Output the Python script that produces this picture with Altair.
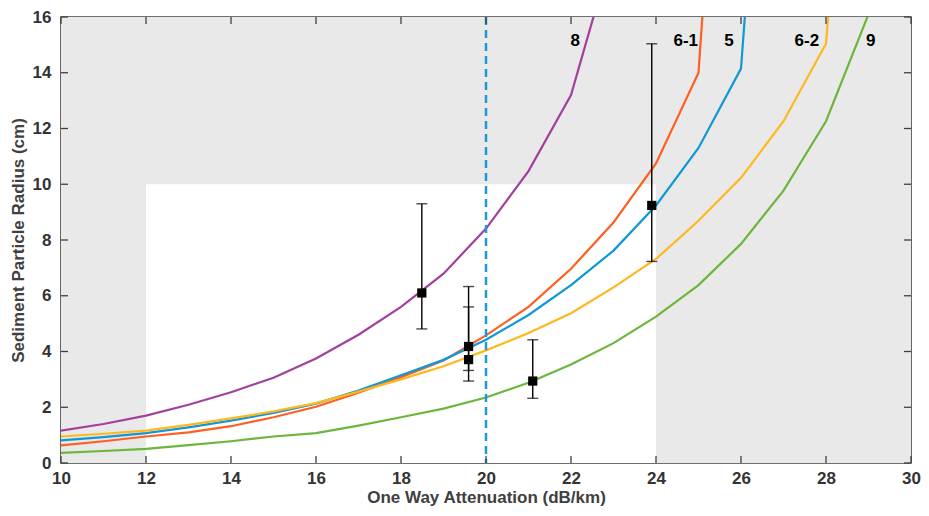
import altair as alt
import pandas as pd

# ---------------- data ----------------
series_names = ["8", "6-1", "5", "6-2", "9"]
series_colors = ["#A2409E", "#FF5F1F", "#0F98D5", "#FDB81E", "#6CB63B"]

x_8 = list(range(10, 24))
y_8 = [1.16, 1.40, 1.70, 2.09, 2.54, 3.06, 3.75, 4.60, 5.60, 6.79, 8.41, 10.47, 13.2, 18.5]

x_61 = list(range(10, 27))
y_61 = [0.63, 0.78, 0.95, 1.10, 1.32, 1.64, 2.02, 2.52, 3.08, 3.68, 4.58, 5.60, 6.97, 8.63, 10.75, 14.0, 36.0]

x_5 = list(range(10, 28))
y_5 = [0.81, 0.93, 1.07, 1.28, 1.52, 1.80, 2.13, 2.60, 3.15, 3.70, 4.42, 5.31, 6.38, 7.62, 9.24, 11.3, 14.15, 34.7]

x_62 = list(range(10, 30))
y_62 = [0.95, 1.05, 1.16, 1.37, 1.60, 1.85, 2.15, 2.56, 3.00, 3.47, 4.04, 4.66, 5.37, 6.30, 7.32, 8.69, 10.23, 12.26, 15.04, 34.0]

x_9 = list(range(10, 31))
y_9 = [0.36, 0.43, 0.51, 0.64, 0.78, 0.95, 1.07, 1.34, 1.64, 1.95, 2.35, 2.88, 3.53, 4.30, 5.25, 6.38, 7.86, 9.77, 12.26, 16.1, 21.0]

# measured samples with error bars
pt_x = [18.49, 19.59, 19.59, 21.10, 23.90]
pt_y = [6.10, 4.18, 3.71, 2.94, 9.24]
pt_lo = [4.81, 3.32, 2.94, 2.32, 7.23]
pt_hi = [9.30, 6.33, 5.60, 4.42, 15.04]

# series labels near the top
label_text = ["8", "6-1", "5", "6-2", "9"]
label_x = [22.1, 24.7, 25.72, 27.55, 29.05]
label_y = [15.15, 15.15, 15.15, 15.15, 15.15]

# shaded regions: full panel grey, valid window white
reg_x = [10, 12]
reg_x2 = [30, 24]
reg_y = [0, 0]
reg_y2 = [16, 10]
reg_fill = ["#E9E9E9", "#FFFFFF"]

threshold_x = 20

x_ticks = list(range(10, 31, 2))
y_ticks = list(range(0, 17, 2))

# ---------------- tables ----------------
rows = []
for name, xs, ys in [("8", x_8, y_8), ("6-1", x_61, y_61), ("5", x_5, y_5),
                     ("6-2", x_62, y_62), ("9", x_9, y_9)]:
    for a, b in zip(xs, ys):
        rows.append({"series": name, "x": a, "y": b})
curves = pd.DataFrame(rows)
points = pd.DataFrame({"x": pt_x, "y": pt_y, "lo": pt_lo, "hi": pt_hi})
labels = pd.DataFrame({"t": label_text, "x": label_x, "y": label_y})
regions = pd.DataFrame({"x": reg_x, "x2": reg_x2, "y": reg_y, "y2": reg_y2, "f": reg_fill})
xt = pd.DataFrame({"t": x_ticks})
yt = pd.DataFrame({"t": y_ticks})

W, H = 850, 446
FONT = "Liberation Sans"
AX = "#404040"

xs = alt.Scale(domain=[10, 30], nice=False, zero=False)
ys = alt.Scale(domain=[0, 16], nice=False, zero=False)

x_axis = alt.Axis(values=x_ticks, title="One Way Attenuation (dB/km)", ticks=False,
                  domain=False, grid=False, labelPadding=7, titlePadding=3,
                  labelFlush=False)
y_axis = alt.Axis(values=y_ticks, title="Sediment Particle Radius (cm)", ticks=False,
                  domain=False, grid=False, labelPadding=10, titlePadding=5,
                  labelFlush=False)

bg = alt.Chart(regions).mark_rect().encode(
    x=alt.X("x:Q", scale=xs, axis=x_axis),
    x2="x2:Q",
    y=alt.Y("y:Q", scale=ys, axis=y_axis),
    y2="y2:Q",
    fill=alt.Fill("f:N", scale=None),
)

lines = alt.Chart(curves).mark_line(clip=True, strokeWidth=2.2).encode(
    x=alt.X("x:Q", scale=xs),
    y=alt.Y("y:Q", scale=ys),
    color=alt.Color("series:N", scale=alt.Scale(domain=series_names, range=series_colors), legend=None),
)

vline = alt.Chart(pd.DataFrame({"x": [threshold_x]})).mark_rule(
    color="#1A9AD6", strokeWidth=2.5, strokeDash=[8, 5]
).encode(x=alt.X("x:Q", scale=xs))

ebar = alt.Chart(points).mark_rule(color="black", strokeWidth=1.4).encode(
    x=alt.X("x:Q", scale=xs), y=alt.Y("lo:Q", scale=ys), y2="hi:Q"
)
cap_lo = alt.Chart(points).mark_tick(color="black", orient="horizontal", size=11, thickness=1.4).encode(
    x=alt.X("x:Q", scale=xs), y=alt.Y("lo:Q", scale=ys)
)
cap_hi = alt.Chart(points).mark_tick(color="black", orient="horizontal", size=11, thickness=1.4).encode(
    x=alt.X("x:Q", scale=xs), y=alt.Y("hi:Q", scale=ys)
)
sq = alt.Chart(points).mark_square(color="black", size=85, opacity=1).encode(
    x=alt.X("x:Q", scale=xs), y=alt.Y("y:Q", scale=ys)
)

txt = alt.Chart(labels).mark_text(font=FONT, fontSize=17, fontWeight="bold", color="black").encode(
    x=alt.X("x:Q", scale=xs), y=alt.Y("y:Q", scale=ys), text="t:N"
)

TL = 7
tb = alt.Chart(xt).mark_rule(color=AX, strokeWidth=1.3).encode(
    x=alt.X("t:Q", scale=xs), y=alt.value(H), y2=alt.value(H - TL))
tt = alt.Chart(xt).mark_rule(color=AX, strokeWidth=1.3).encode(
    x=alt.X("t:Q", scale=xs), y=alt.value(0), y2=alt.value(TL))
tl = alt.Chart(yt).mark_rule(color=AX, strokeWidth=1.3).encode(
    y=alt.Y("t:Q", scale=ys), x=alt.value(0), x2=alt.value(TL))
tr = alt.Chart(yt).mark_rule(color=AX, strokeWidth=1.3).encode(
    y=alt.Y("t:Q", scale=ys), x=alt.value(W), x2=alt.value(W - TL))

chart = alt.layer(bg, lines, vline, ebar, cap_lo, cap_hi, sq, txt, tb, tt, tl, tr).properties(
    width=W, height=H,
    padding={"left": 53, "top": 9, "right": 10, "bottom": 45},
    autosize=alt.AutoSizeParams(type="none"),
).configure_view(
    stroke=AX, strokeWidth=1.6
).configure_axis(
    labelFont=FONT, labelFontSize=17, labelFontWeight="bold", labelColor="#333333",
    titleFont=FONT, titleFontSize=17, titleFontWeight="bold", titleColor=AX,
)

chart.save("out.html", embed_options={"renderer": "svg", "actions": False})
